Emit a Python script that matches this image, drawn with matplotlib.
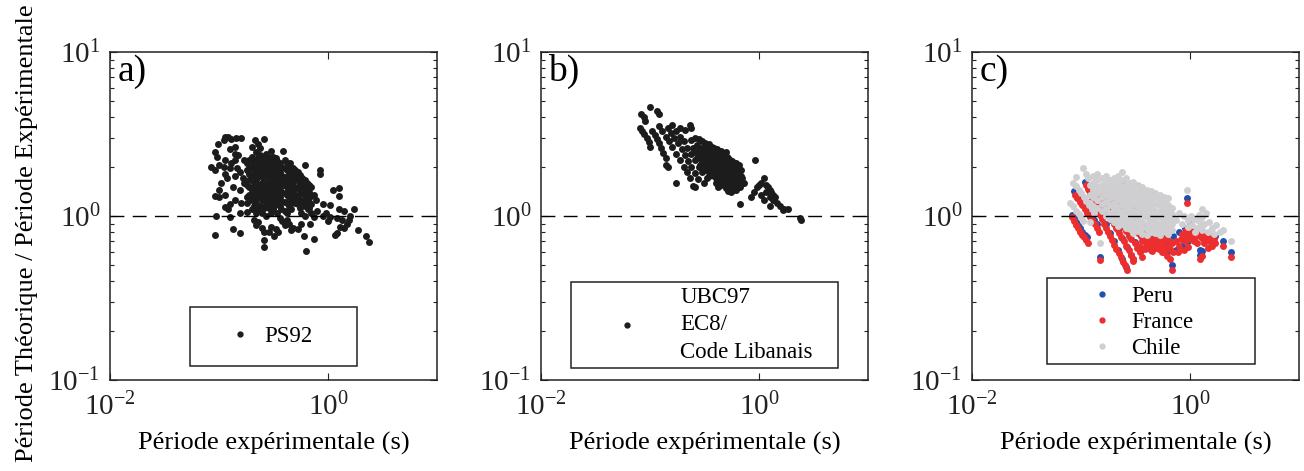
import matplotlib
matplotlib.use('Agg')
import matplotlib.pyplot as plt
from matplotlib.ticker import NullLocator, LogLocator, NullFormatter
from matplotlib.lines import Line2D
from matplotlib.patches import Rectangle

# ---------------- data (period in s, ratio theoretical/experimental) ----------------
ps92 = [
    (0.113, 3.05), (0.122, 3.05), (0.110, 2.9), (0.130, 2.95), (0.142, 3.0), (0.160, 3.0),
    (0.097, 2.75), (0.126, 2.55), (0.140, 2.65), (0.092, 2.45), (0.095, 2.3), (0.113, 2.2),
    (0.140, 2.4), (0.140, 2.2), (0.085, 1.98), (0.092, 1.9), (0.100, 2.05), (0.110, 2.0),
    (0.113, 1.8), (0.130, 2.1), (0.140, 1.75), (0.135, 1.5), (0.155, 1.85), (0.155, 1.45),
    (0.170, 1.6), (0.100, 1.45), (0.092, 1.33), (0.100, 1.31), (0.113, 1.35), (0.113, 1.14),
    (0.126, 1.18), (0.140, 1.25), (0.160, 1.2), (0.180, 1.06), (0.155, 1.05), (0.126, 0.99),
    (0.092, 0.77), (0.135, 0.83), (0.155, 0.79), (0.093, 1.0), (0.120, 1.1), (0.105, 1.6),
    (0.118, 1.7), (0.125, 1.95), (0.145, 1.95), (0.165, 1.7), (0.170, 2.2), (0.150, 2.35),
    (0.215, 2.9), (0.260, 2.95), (0.240, 2.6), (0.220, 2.45), (0.300, 2.5), (0.390, 2.5),
    (0.270, 2.25), (0.200, 2.15), (0.200, 2.65), (0.230, 2.75),
    (0.18, 1.9), (0.18, 1.55), (0.18, 1.3), (0.18, 1.2), (0.18, 2.1),
    (0.20, 2.0), (0.20, 1.75), (0.20, 1.45), (0.20, 1.25), (0.20, 1.1), (0.20, 2.3),
    (0.22, 2.2), (0.22, 1.9), (0.22, 1.65), (0.22, 1.4), (0.22, 1.2), (0.22, 1.05),
    (0.24, 2.35), (0.24, 2.05), (0.24, 1.8), (0.24, 1.55), (0.24, 1.35), (0.24, 1.15),
    (0.26, 2.2), (0.26, 1.95), (0.26, 1.7), (0.26, 1.5), (0.26, 1.3), (0.26, 1.12),
    (0.28, 2.3), (0.28, 2.1), (0.28, 1.85), (0.28, 1.6), (0.28, 1.42), (0.28, 1.25),
    (0.30, 2.15), (0.30, 1.9), (0.30, 1.68), (0.30, 1.5), (0.30, 1.35), (0.30, 1.2), (0.30, 1.05),
    (0.33, 2.25), (0.33, 2.0), (0.33, 1.78), (0.33, 1.58), (0.33, 1.4), (0.33, 1.22),
    (0.36, 2.1), (0.36, 1.85), (0.36, 1.65), (0.36, 1.48), (0.36, 1.3), (0.36, 1.15),
    (0.40, 2.2), (0.40, 1.95), (0.40, 1.72), (0.40, 1.55), (0.40, 1.38), (0.40, 1.22), (0.40, 1.08),
    (0.44, 2.05), (0.44, 1.82), (0.44, 1.62), (0.44, 1.45), (0.44, 1.3), (0.44, 1.15),
    (0.48, 1.95), (0.48, 1.75), (0.48, 1.55), (0.48, 1.4), (0.48, 1.25),
    (0.53, 1.85), (0.53, 1.65), (0.53, 1.48), (0.53, 1.3), (0.53, 1.18),
    (0.58, 1.7), (0.58, 1.52), (0.58, 1.38), (0.58, 1.22),
    (0.64, 1.6), (0.64, 1.42), (0.64, 1.25),
    (0.70, 1.5), (0.70, 1.32), (0.70, 1.18),
    (0.19, 2.2), (0.19, 1.95), (0.19, 1.8), (0.19, 1.5), (0.19, 1.35),
    (0.21, 2.05), (0.21, 1.85), (0.21, 1.6), (0.21, 1.5), (0.21, 1.25), (0.21, 1.15),
    (0.23, 2.25), (0.23, 2.1), (0.23, 1.75), (0.23, 1.5), (0.23, 1.3), (0.23, 1.1),
    (0.25, 2.3), (0.25, 2.1), (0.25, 1.9), (0.25, 1.72), (0.25, 1.45), (0.25, 1.25), (0.25, 1.05),
    (0.27, 2.4), (0.27, 2.15), (0.27, 1.95), (0.27, 1.78), (0.27, 1.55), (0.27, 1.32), (0.27, 1.18),
    (0.29, 2.2), (0.29, 1.98), (0.29, 1.62), (0.29, 1.48), (0.29, 1.3), (0.29, 1.12),
    (0.31, 2.3), (0.31, 2.05), (0.31, 1.82), (0.31, 1.62), (0.31, 1.43), (0.31, 1.27), (0.31, 1.1),
    (0.34, 2.15), (0.34, 1.92), (0.34, 1.7), (0.34, 1.5), (0.34, 1.33), (0.34, 1.18), (0.34, 1.05),
    (0.37, 2.0), (0.37, 1.78), (0.37, 1.57), (0.37, 1.4), (0.37, 1.24), (0.37, 1.1),
    (0.42, 2.1), (0.42, 1.68), (0.42, 1.5), (0.42, 1.35), (0.42, 1.2), (0.42, 1.05),
    (0.46, 1.9), (0.46, 1.7), (0.46, 1.58), (0.46, 1.35), (0.46, 1.2), (0.46, 1.1),
    (0.50, 1.9), (0.50, 1.72), (0.50, 1.48), (0.50, 1.35), (0.50, 1.2),
    (0.55, 1.78), (0.55, 1.6), (0.55, 1.42), (0.55, 1.25), (0.55, 1.12),
    (0.61, 1.65), (0.61, 1.5), (0.61, 1.32), (0.61, 1.15),
    (0.67, 1.55), (0.67, 1.4), (0.67, 1.22), (0.67, 1.12),
    (0.19, 1.65), (0.21, 1.35), (0.23, 1.95), (0.25, 1.6), (0.27, 1.4), (0.29, 1.75),
    (0.31, 1.55), (0.345, 1.9), (0.38, 1.6), (0.42, 1.9), (0.46, 1.5), (0.50, 1.65),
    (0.55, 1.55), (0.60, 1.45), (0.35, 1.35), (0.32, 1.15), (0.27, 1.0),
    (0.21, 0.95), (0.22, 0.88), (0.23, 0.92), (0.25, 0.85), (0.29, 0.80), (0.30, 0.86),
    (0.33, 0.83), (0.35, 0.80), (0.32, 0.76), (0.26, 0.80), (0.26, 0.71), (0.26, 0.65),
    (0.38, 0.93), (0.40, 0.88), (0.36, 0.97), (0.44, 0.90), (0.48, 0.85), (0.42, 0.95),
    (0.53, 0.83), (0.57, 0.90), (0.60, 0.75), (0.46, 0.82), (0.63, 0.61),
    (0.45, 2.1), (0.62, 2.05), (0.85, 1.9), (0.85, 1.8), (0.66, 1.55), (1.10, 1.45),
    (1.25, 1.48), (1.25, 1.32), (0.90, 1.18), (1.05, 1.16), (1.25, 1.1), (1.40, 1.08),
    (1.75, 1.1), (0.80, 1.08), (0.74, 0.98), (1.05, 0.99), (1.20, 0.97), (1.35, 0.95),
    (1.50, 0.90), (1.30, 0.86), (1.20, 0.79), (1.15, 0.77), (1.90, 0.82), (2.25, 0.75),
    (2.40, 0.69), (0.75, 0.72), (0.68, 0.90), (0.90, 1.0), (0.95, 1.05), (1.00, 0.93),
    (1.40, 0.84), (1.55, 0.95), (1.60, 1.0), (0.70, 1.05), (0.62, 1.0), (0.56, 1.05),
    (0.78, 1.25), (0.74, 1.35), (0.66, 1.1),
]

ubc_ec8 = [
    (0.081, 3.45), (0.085, 3.3), (0.089, 3.15), (0.093, 2.98), (0.097, 2.82), (0.101, 2.65),
    (0.083, 4.2), (0.088, 4.0), (0.090, 3.8), (0.100, 4.6), (0.117, 4.35), (0.120, 4.2),
    (0.105, 3.3), (0.110, 3.1), (0.115, 2.95), (0.120, 2.8), (0.127, 2.6), (0.133, 2.42),
    (0.140, 2.25), (0.140, 2.05), (0.145, 2.0), (0.175, 1.58),
    (0.120, 3.55), (0.130, 3.3), (0.140, 3.05), (0.150, 2.85), (0.160, 2.65), (0.175, 2.4),
    (0.190, 2.2), (0.205, 2.0), (0.220, 1.85), (0.235, 1.7), (0.250, 1.52),
    (0.145, 3.45), (0.155, 3.2), (0.165, 3.0), (0.180, 2.8), (0.195, 2.55), (0.210, 2.35),
    (0.225, 2.15), (0.240, 2.0), (0.260, 1.82), (0.275, 1.68),
    (0.160, 3.6), (0.175, 3.3), (0.190, 3.05), (0.205, 2.85), (0.220, 2.6), (0.240, 2.4),
    (0.260, 2.2), (0.280, 2.0), (0.300, 1.85), (0.330, 1.7),
    (0.24, 2.9), (0.26, 3.0), (0.28, 2.95), (0.30, 2.85), (0.25, 2.6), (0.27, 2.7),
    (0.29, 2.55), (0.31, 2.65), (0.33, 2.7), (0.35, 2.6), (0.37, 2.5), (0.28, 2.35),
    (0.30, 2.4), (0.32, 2.3), (0.34, 2.45), (0.36, 2.3), (0.38, 2.4), (0.40, 2.35),
    (0.42, 2.45), (0.44, 2.3), (0.30, 2.15), (0.32, 2.1), (0.34, 2.2), (0.36, 2.1),
    (0.38, 2.15), (0.40, 2.05), (0.42, 2.2), (0.44, 2.1), (0.46, 2.2), (0.48, 2.3),
    (0.50, 2.15), (0.52, 2.25), (0.34, 1.95), (0.36, 1.9), (0.38, 1.95), (0.40, 1.85),
    (0.42, 1.95), (0.44, 1.9), (0.46, 2.0), (0.48, 1.95), (0.50, 2.0), (0.53, 2.05),
    (0.56, 2.1), (0.60, 2.0), (0.64, 1.95), (0.40, 1.7), (0.43, 1.75), (0.46, 1.8),
    (0.49, 1.75), (0.52, 1.8), (0.55, 1.85), (0.58, 1.9), (0.62, 1.8), (0.66, 1.85),
    (0.45, 1.6), (0.48, 1.62), (0.52, 1.58), (0.56, 1.65), (0.60, 1.7), (0.64, 1.65),
    (0.68, 1.75), (0.70, 1.6), (0.50, 1.5), (0.55, 1.52), (0.60, 1.55), (0.33, 2.55),
    (0.39, 2.6), (0.45, 2.5), (0.50, 2.45), (0.27, 2.25), (0.29, 2.05), (0.31, 1.95),
    (0.26, 2.45), (0.233, 3.6), (0.24, 3.45), (0.19, 3.45), (0.21, 3.35),
    (0.30, 2.6), (0.30, 2.3), (0.30, 2.0),
    (0.32, 2.8), (0.32, 2.5), (0.32, 2.2), (0.32, 1.9),
    (0.35, 2.75), (0.35, 2.4), (0.35, 2.15), (0.35, 1.85), (0.35, 1.75),
    (0.37, 2.65), (0.37, 2.35), (0.37, 2.05), (0.37, 1.8),
    (0.39, 2.5), (0.39, 2.25), (0.39, 2.0), (0.39, 1.75),
    (0.41, 2.55), (0.41, 2.3), (0.41, 2.1), (0.41, 1.8), (0.41, 1.65),
    (0.43, 2.4), (0.43, 2.2), (0.43, 2.0), (0.43, 1.85), (0.43, 1.7),
    (0.45, 2.35), (0.45, 2.15), (0.45, 1.95), (0.45, 1.7),
    (0.47, 2.4), (0.47, 2.1), (0.47, 1.9), (0.47, 1.72), (0.47, 1.58),
    (0.49, 2.25), (0.49, 2.05), (0.49, 1.85), (0.49, 1.68),
    (0.51, 2.3), (0.51, 2.1), (0.51, 1.9), (0.51, 1.7), (0.51, 1.55),
    (0.54, 2.2), (0.54, 1.95), (0.54, 1.75), (0.54, 1.6),
    (0.57, 2.15), (0.57, 1.95), (0.57, 1.78), (0.57, 1.62), (0.57, 1.48),
    (0.61, 2.1), (0.61, 1.9), (0.61, 1.75), (0.61, 1.6),
    (0.65, 2.05), (0.65, 1.75), (0.65, 1.6),
    (0.68, 1.9), (0.68, 1.68),
    (0.92, 2.2), (0.70, 1.7), (0.73, 1.6), (0.67, 1.5), (0.62, 1.45), (0.58, 1.45),
    (0.55, 1.4), (0.52, 1.42), (0.40, 1.6), (0.45, 1.55), (0.50, 1.48), (0.42, 1.5),
    (0.95, 1.5), (1.00, 1.55), (1.05, 1.6), (1.10, 1.7), (1.15, 1.55), (1.20, 1.5),
    (1.25, 1.45), (1.30, 1.4), (1.35, 1.35), (1.40, 1.3), (1.15, 1.4), (1.25, 1.3),
    (1.35, 1.25), (1.45, 1.2), (1.55, 1.15), (1.70, 1.1), (1.85, 1.1), (1.05, 1.35),
    (0.90, 1.4), (0.85, 1.3), (1.10, 1.25), (0.67, 1.19), (1.26, 1.15), (1.67, 1.09),
    (2.40, 0.97), (2.45, 0.95), (0.31, 1.6), (0.26, 1.5),
]

peru = [
    (0.082, 1.02), (0.086, 0.97), (0.090, 0.92), (0.094, 0.88), (0.098, 0.84), (0.103, 0.80),
    (0.108, 0.77), (0.113, 0.74),
    (0.087, 1.42), (0.091, 1.35), (0.096, 1.28), (0.101, 1.22), (0.107, 1.16), (0.113, 1.10),
    (0.119, 1.04), (0.126, 0.99), (0.133, 0.94), (0.140, 0.89),
    (0.108, 1.62), (0.118, 1.44), (0.129, 1.28), (0.141, 1.13), (0.154, 1.01), (0.168, 0.89),
    (0.183, 0.79), (0.200, 0.70), (0.219, 0.62), (0.238, 0.55), (0.258, 0.49),
    (0.130, 1.52), (0.145, 1.34), (0.160, 1.19), (0.178, 1.05), (0.197, 0.93), (0.218, 0.82),
    (0.240, 0.73), (0.265, 0.65), (0.290, 0.58),
    (0.165, 1.40), (0.183, 1.25), (0.203, 1.11), (0.225, 0.99), (0.250, 0.88), (0.277, 0.78),
    (0.310, 0.69), (0.345, 0.61),
    (0.205, 1.35), (0.230, 1.20), (0.255, 1.07), (0.285, 0.95), (0.320, 0.85), (0.355, 0.76),
    (0.400, 0.68), (0.440, 0.62),
    (0.260, 1.25), (0.290, 1.12), (0.325, 1.00), (0.360, 0.90), (0.400, 0.81), (0.450, 0.73),
    (0.500, 0.67), (0.550, 0.63),
    (0.240, 1.62), (0.930, 1.28), (2.400, 0.60), (2.000, 0.70), (1.300, 0.61), (1.240, 0.62),
    (1.240, 0.58), (0.680, 0.50), (0.300, 0.55), (0.149, 0.565), (0.620, 0.60), (0.750, 0.62),
    (0.850, 0.66), (0.950, 0.70), (1.050, 0.74), (1.150, 0.78), (1.700, 0.75), (1.550, 0.72),
    (0.620, 0.70), (0.700, 0.75), (0.800, 0.80), (0.900, 0.85), (1.000, 0.90), (0.580, 0.66),
]

france = [
    (0.083, 0.98), (0.087, 0.93), (0.090, 0.88), (0.094, 0.84), (0.098, 0.80), (0.102, 0.77),
    (0.107, 0.74), (0.112, 0.71), (0.117, 0.68),
    (0.088, 1.35), (0.092, 1.28), (0.097, 1.22), (0.102, 1.16), (0.108, 1.10), (0.114, 1.04),
    (0.120, 0.99), (0.127, 0.94), (0.134, 0.89), (0.140, 0.84), (0.147, 0.80),
    (0.110, 1.55), (0.115, 1.46), (0.120, 1.37), (0.125, 1.29), (0.131, 1.22), (0.137, 1.15),
    (0.143, 1.08), (0.149, 1.02), (0.156, 0.96), (0.163, 0.90), (0.170, 0.85), (0.177, 0.80),
    (0.185, 0.755), (0.193, 0.71), (0.202, 0.67), (0.211, 0.63), (0.221, 0.594), (0.231, 0.56),
    (0.241, 0.527), (0.251, 0.50), (0.262, 0.47),
    (0.132, 1.45), (0.139, 1.36), (0.147, 1.28), (0.155, 1.20), (0.163, 1.13), (0.172, 1.06),
    (0.181, 1.00), (0.190, 0.94), (0.200, 0.89), (0.210, 0.84), (0.222, 0.79), (0.234, 0.74),
    (0.246, 0.70), (0.260, 0.66), (0.273, 0.62), (0.287, 0.58), (0.300, 0.55),
    (0.165, 1.35), (0.175, 1.26), (0.185, 1.18), (0.196, 1.11), (0.207, 1.04), (0.219, 0.98),
    (0.232, 0.92), (0.245, 0.86), (0.260, 0.81), (0.275, 0.76), (0.290, 0.72), (0.310, 0.68),
    (0.325, 0.64), (0.345, 0.60), (0.360, 0.56),
    (0.205, 1.30), (0.218, 1.22), (0.232, 1.14), (0.246, 1.07), (0.262, 1.00), (0.278, 0.94),
    (0.295, 0.89), (0.313, 0.84), (0.333, 0.79), (0.354, 0.75), (0.376, 0.71), (0.400, 0.67),
    (0.425, 0.64), (0.450, 0.61),
    (0.260, 1.20), (0.277, 1.12), (0.295, 1.05), (0.315, 0.98), (0.335, 0.92), (0.357, 0.87),
    (0.380, 0.82), (0.405, 0.77), (0.430, 0.73), (0.460, 0.69), (0.490, 0.66), (0.520, 0.63),
    (0.550, 0.60),
    (0.33, 0.66), (0.36, 0.64), (0.39, 0.63), (0.42, 0.65), (0.45, 0.66), (0.48, 0.64),
    (0.51, 0.67), (0.55, 0.68), (0.58, 0.66), (0.62, 0.65), (0.66, 0.63), (0.36, 0.70),
    (0.40, 0.72), (0.44, 0.70), (0.48, 0.72), (0.52, 0.71), (0.56, 0.73), (0.60, 0.72),
    (0.64, 0.70), (0.68, 0.68), (0.58, 0.60), (0.62, 0.57), (0.66, 0.55), (0.70, 0.60),
    (0.93, 1.20), (0.85, 0.78), (0.92, 0.82), (0.98, 0.80), (1.05, 0.76), (1.12, 0.80),
    (1.18, 0.78), (1.25, 0.74), (1.32, 0.72), (1.38, 0.76), (1.00, 0.72), (1.08, 0.70),
    (1.15, 0.68), (0.90, 0.70), (0.80, 0.66), (0.75, 0.70), (1.50, 0.70), (1.65, 0.72),
    (1.30, 0.57), (1.24, 0.55), (2.40, 0.56), (2.00, 0.66), (0.68, 0.47), (0.30, 0.53),
    (0.149, 0.54), (0.24, 1.52), (1.60, 0.66), (0.88, 0.62), (0.95, 0.65), (1.45, 0.64),
    (0.95, 0.76), (1.02, 0.84), (1.10, 0.74), (1.22, 0.82), (1.28, 0.79), (1.35, 0.68),
    (1.42, 0.72), (1.55, 0.76), (1.70, 0.68), (0.82, 0.72), (0.88, 0.75), (0.78, 0.60),
]

chile = [
    (0.080, 1.2), (0.085, 1.15), (0.090, 1.08), (0.095, 1.03), (0.100, 0.98), (0.105, 0.93),
    (0.085, 1.6), (0.090, 1.52), (0.095, 1.45), (0.100, 1.38), (0.106, 1.3), (0.112, 1.24),
    (0.118, 1.17), (0.125, 1.1), (0.132, 1.05), (0.105, 1.95), (0.110, 1.8), (0.115, 1.7),
    (0.090, 1.72), (0.149, 0.68), (0.120, 0.92),
    (0.12, 1.55), (0.12, 1.35), (0.12, 1.2),
    (0.13, 1.75), (0.13, 1.6), (0.13, 1.45), (0.13, 1.3), (0.13, 1.15),
    (0.14, 1.8), (0.14, 1.65), (0.14, 1.5), (0.14, 1.38), (0.14, 1.25), (0.14, 1.12),
    (0.155, 1.7), (0.155, 1.55), (0.155, 1.42), (0.155, 1.3), (0.155, 1.18), (0.155, 1.07),
    (0.17, 1.75), (0.17, 1.6), (0.17, 1.47), (0.17, 1.35), (0.17, 1.22), (0.17, 1.1), (0.17, 1.0),
    (0.185, 1.65), (0.185, 1.52), (0.185, 1.4), (0.185, 1.28), (0.185, 1.16), (0.185, 1.05),
    (0.185, 0.96),
    (0.20, 1.7), (0.20, 1.55), (0.20, 1.43), (0.20, 1.32), (0.20, 1.2), (0.20, 1.1), (0.20, 1.0),
    (0.20, 0.92),
    (0.22, 1.75), (0.22, 1.6), (0.22, 1.48), (0.22, 1.36), (0.22, 1.25), (0.22, 1.14),
    (0.22, 1.04), (0.22, 0.95), (0.22, 0.87),
    (0.24, 1.85), (0.24, 1.65), (0.24, 1.5), (0.24, 1.38), (0.24, 1.27), (0.24, 1.16),
    (0.24, 1.06), (0.24, 0.97), (0.24, 0.89),
    (0.26, 1.7), (0.26, 1.55), (0.26, 1.42), (0.26, 1.3), (0.26, 1.2), (0.26, 1.1),
    (0.26, 1.0), (0.26, 0.92), (0.26, 0.85),
    (0.28, 1.6), (0.28, 1.48), (0.28, 1.36), (0.28, 1.25), (0.28, 1.15), (0.28, 1.06),
    (0.28, 0.97), (0.28, 0.9), (0.28, 0.83),
    (0.30, 1.62), (0.30, 1.5), (0.30, 1.38), (0.30, 1.28), (0.30, 1.18), (0.30, 1.08),
    (0.30, 1.0), (0.30, 0.92), (0.30, 0.85), (0.30, 0.79),
    (0.33, 1.55), (0.33, 1.43), (0.33, 1.32), (0.33, 1.22), (0.33, 1.12), (0.33, 1.03),
    (0.33, 0.95), (0.33, 0.88), (0.33, 0.81),
    (0.36, 1.5), (0.36, 1.38), (0.36, 1.28), (0.36, 1.18), (0.36, 1.09), (0.36, 1.0),
    (0.36, 0.92), (0.36, 0.85), (0.36, 0.78),
    (0.40, 1.45), (0.40, 1.35), (0.40, 1.25), (0.40, 1.15), (0.40, 1.06), (0.40, 0.98),
    (0.40, 0.9), (0.40, 0.83), (0.40, 0.77),
    (0.44, 1.42), (0.44, 1.3), (0.44, 1.2), (0.44, 1.1), (0.44, 1.02), (0.44, 0.94),
    (0.44, 0.87), (0.44, 0.8),
    (0.48, 1.38), (0.48, 1.28), (0.48, 1.18), (0.48, 1.08), (0.48, 1.0), (0.48, 0.93),
    (0.48, 0.86), (0.48, 0.79),
    (0.53, 1.35), (0.53, 1.25), (0.53, 1.15), (0.53, 1.06), (0.53, 0.98), (0.53, 0.9),
    (0.53, 0.83), (0.53, 0.77),
    (0.58, 1.3), (0.58, 1.2), (0.58, 1.1), (0.58, 1.02), (0.58, 0.95), (0.58, 0.88), (0.58, 0.81),
    (0.63, 1.28), (0.63, 1.16), (0.63, 1.07), (0.63, 0.99), (0.63, 0.92), (0.63, 0.85),
    (0.63, 0.78),
    (0.68, 1.12), (0.68, 1.03), (0.68, 0.96), (0.68, 0.89), (0.68, 0.82),
    (0.93, 1.45), (0.80, 1.05), (0.88, 1.0), (0.95, 0.95), (1.02, 1.0), (1.10, 0.96),
    (1.20, 0.93), (1.30, 0.98), (1.40, 1.05), (1.30, 1.1), (1.20, 1.02), (0.85, 0.9),
    (0.95, 0.86), (1.05, 0.88), (1.15, 0.85), (1.25, 0.88), (1.35, 0.9), (1.50, 0.92),
    (1.60, 0.85), (1.75, 0.88), (1.90, 0.8), (2.00, 0.82), (2.40, 0.70), (1.45, 0.8),
    (0.75, 0.95), (1.65, 0.78), (1.30, 0.82), (1.10, 0.8),
]

x_ticks = [1e-2, 1e0]
x_ticklabels = [r'$10^{-2}$', r'$10^{0}$']
y_ticks = [1e-1, 1e0, 1e1]
y_ticklabels = [r'$10^{-1}$', r'$10^{0}$', r'$10^{1}$']
panel_letters = ['a)', 'b)', 'c)']
xlabel = 'Période expérimentale (s)'
ylabel = 'Période Théorique / Période Expérimentale'

# ---------------- style ----------------
plt.rcParams['font.family'] = ['Liberation Serif', 'DejaVu Serif']
plt.rcParams['mathtext.fontset'] = 'custom'
plt.rcParams['mathtext.rm'] = 'Liberation Serif'
plt.rcParams['mathtext.it'] = 'Liberation Serif:italic'
plt.rcParams['mathtext.bf'] = 'Liberation Serif:bold'

BLACK = '#1c1c1c'
BLUE = '#1f4fb0'
RED = '#ec2e2e'
GRAY = '#cfcfd2'

fig = plt.figure(figsize=(13.04, 4.71), dpi=100)
W, H = 1304, 471
lefts = [110, 541, 972]
axes = [fig.add_axes([l / W, 1 - 380 / H, 327 / W, 328 / H]) for l in lefts]

for ax, letter in zip(axes, panel_letters):
    ax.set_xscale('log')
    ax.set_yscale('log')
    ax.set_xlim(1e-2, 1e1)
    ax.set_ylim(1e-1, 1e1)
    ax.set_xticks(x_ticks)
    ax.set_xticklabels(x_ticklabels, fontsize=21)
    ax.xaxis.set_minor_locator(NullLocator())
    ax.set_yticks(y_ticks)
    ax.set_yticklabels(y_ticklabels, fontsize=21)
    ax.yaxis.set_minor_locator(LogLocator(base=10, subs=range(2, 10)))
    ax.yaxis.set_minor_formatter(NullFormatter())
    ax.tick_params(which='both', direction='in', top=True, right=True, colors='#222222')
    ax.tick_params(which='major', length=5, width=0.8)
    ax.tick_params(axis='y', which='major', pad=7)
    ax.tick_params(axis='x', which='major', pad=9)
    ax.tick_params(which='minor', length=3, width=0.8)
    for s in ax.spines.values():
        s.set_linewidth(1.1)
        s.set_color('#222222')
    ax.axhline(1.0, color='k', lw=1.0, dashes=(10, 6), zorder=5)
    ax.text(0.022, 0.94, letter, transform=ax.transAxes, fontsize=27, va='center', ha='left')
    ax.set_xlabel(xlabel, fontsize=19, labelpad=8)

fig.text(0.021, 0.505, ylabel, rotation=90, fontsize=19, va='center', ha='center')

ms = 5.0
xa, ya = zip(*ps92)
axes[0].plot(xa, ya, 'o', ms=ms, color=BLACK, mew=0, zorder=3)
xb, yb = zip(*ubc_ec8)
axes[1].plot(xb, yb, 'o', ms=ms, color=BLACK, mew=0, zorder=3)
for pts, col in [(peru, BLUE), (france, RED), (chile, GRAY)]:
    xc, yc = zip(*pts)
    axes[2].plot(xc, yc, 'o', ms=ms, color=col, mew=0, zorder=3)


def legend_box(ax, box, center, handles, labels, tp, spacing, linesp=None):
    x0, y0, x1, y1 = box
    ax.add_patch(Rectangle((x0, y0), x1 - x0, y1 - y0, transform=ax.transAxes,
                           facecolor='white', edgecolor='#222222', lw=1.1, zorder=8))
    leg = ax.legend(handles, labels, loc='center', bbox_to_anchor=center,
                    frameon=False, fontsize=16.5, handlelength=1.0, handletextpad=tp,
                    labelspacing=spacing, borderpad=0.2, numpoints=1)
    if linesp is not None:
        for t in leg.get_texts():
            t.set_linespacing(linesp)
    leg.set_zorder(9)
    return leg


legend_box(axes[0], (0.245, 0.043, 0.755, 0.223), (0.49, 0.133),
           [Line2D([], [], ls='none', marker='o', ms=3.5, color=BLACK)], ['PS92'], 0.55, 0.1)
legend_box(axes[1], (0.092, 0.037, 0.908, 0.299), (0.53, 0.168),
           [Line2D([], [], ls='none', marker='o', ms=3.5, color=BLACK)],
           ['UBC97\nEC8/\nCode Libanais'], 1.8, 0.1, linesp=1.4)
legend_box(axes[2], (0.229, 0.049, 0.865, 0.311), (0.52, 0.176),
           [Line2D([], [], ls='none', marker='o', ms=3.5, color=c) for c in (BLUE, RED, GRAY)],
           ['Peru', 'France', 'Chile'], 0.8, 0.22)

fig.savefig('out.png', dpi=100)
